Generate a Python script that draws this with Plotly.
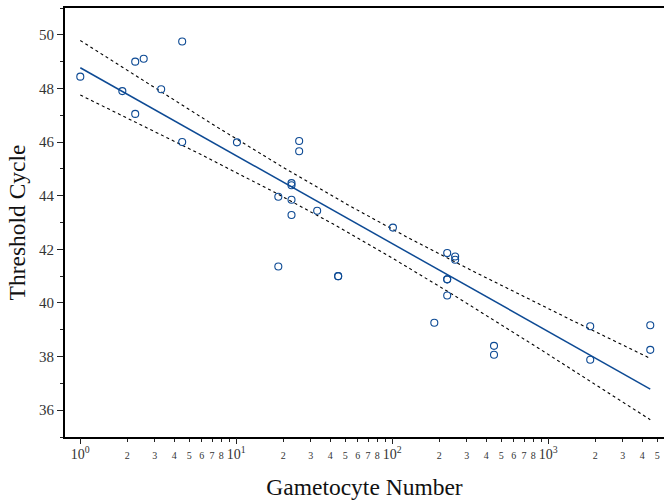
import numpy as np
import plotly.graph_objects as go

# ---- data ----
gametocytes = [1, 1.86, 2.25, 2.55, 2.25, 3.3, 4.5, 4.5, 10.1, 18.6,
               22.6, 22.6, 22.6, 22.6, 25.3, 25.3, 33, 18.6, 45, 45,
               101, 225, 253, 253, 225, 225, 225, 186, 449, 449,
               1858, 1858, 4508, 4508]
threshold_cycle = [48.44, 47.90, 49.00, 49.11, 47.05, 47.97, 49.75, 46.00, 45.99, 43.96,
                   44.47, 44.39, 43.85, 43.28, 46.04, 45.66, 43.44, 41.36, 41.00, 41.00,
                   42.81, 41.86, 41.73, 41.61, 40.88, 40.88, 40.28, 39.26, 38.40, 38.07,
                   39.13, 37.88, 39.17, 38.25]

decade_vals = [1, 10, 100, 1000]
decade_text = ["10<sup>0</sup>", "10<sup>1</sup>", "10<sup>2</sup>", "10<sup>3</sup>"]
minor_digits = [2, 3, 4, 5, 6, 7, 8, 9]
minor_labels = ["2", "3", "4", "5", "6", "7", "8", ""]
t_crit = 2.037  # t(0.975, df=32)

# ---- regression on log10(x) ----
lx = np.log10(np.array(gametocytes, float))
yv = np.array(threshold_cycle, float)
n = len(lx)
slope, intercept = np.polyfit(lx, yv, 1)
resid = yv - (intercept + slope * lx)
s = np.sqrt(np.sum(resid ** 2) / (n - 2))
sxx = np.sum((lx - lx.mean()) ** 2)
gx = np.linspace(lx.min(), lx.max(), 200)
fit = intercept + slope * gx
half = t_crit * s * np.sqrt(1.0 / n + (gx - lx.mean()) ** 2 / sxx)
xfit = 10 ** gx

# ---- tick lists ----
tickvals, ticktext = [], []
for d, lab in zip(decade_vals, decade_text):
    tickvals.append(d)
    ticktext.append(lab)
    for m, ml in zip(minor_digits, minor_labels):
        v = d * m
        if v <= 5000:
            tickvals.append(v)
            ticktext.append("<span style='font-size:10px'>%s</span>" % ml if ml else "")

blue = "#0d4a94"
fig = go.Figure()
fig.add_trace(go.Scatter(x=xfit, y=fit + half, mode="lines",
                         line=dict(color="black", width=1.1, dash="3px,3px"), showlegend=False))
fig.add_trace(go.Scatter(x=xfit, y=fit - half, mode="lines",
                         line=dict(color="black", width=1.1, dash="3px,3px"), showlegend=False))
fig.add_trace(go.Scatter(x=xfit, y=fit, mode="lines",
                         line=dict(color=blue, width=1.5), showlegend=False))
fig.add_trace(go.Scatter(x=gametocytes, y=threshold_cycle, mode="markers",
                         marker=dict(symbol="circle-open", size=7, color=blue,
                                     line=dict(width=1.1, color=blue)),
                         showlegend=False))
fig.add_trace(go.Scatter(x=[], y=[], xaxis="x2", showlegend=False))

xr = [-0.098, 3.742]
fig.update_layout(
    width=664, height=504,
    margin=dict(l=65, r=0, t=8, b=67),
    plot_bgcolor="white", paper_bgcolor="white",
    font=dict(family="Liberation Serif", color="#222"),
    xaxis=dict(type="log", range=xr, tickmode="array", tickvals=tickvals, ticktext=ticktext,
               ticks="outside", ticklen=3, tickcolor="#222", tickwidth=1,
               tickfont=dict(size=14, color="#333", family="Liberation Serif"),
               showline=True, linecolor="black", linewidth=2, mirror=True,
               showgrid=False, zeroline=False, automargin=False,
               title=dict(text="Gametocyte Number", font=dict(size=23.5, color="#111"), standoff=18)),
    xaxis2=dict(type="log", range=xr, overlaying="x", anchor="y", side="bottom",
                tickmode="array", tickvals=decade_vals, ticktext=["", "", "", ""],
                ticks="outside", ticklen=6, tickcolor="#222", tickwidth=1, automargin=False,
                showline=False, showgrid=False, zeroline=False, showticklabels=False),
    yaxis=dict(range=[35, 51], tickmode="linear", tick0=36, dtick=2,
               ticks="outside", ticklen=6, tickcolor="#222", tickwidth=1,
               minor=dict(ticks="outside", ticklen=3, dtick=1, tick0=35, tickcolor="#222"),
               tickfont=dict(size=15, color="#333", family="Liberation Serif"),
               showline=True, linecolor="black", linewidth=2, mirror=False,
               showgrid=False, zeroline=False, automargin=False,
               title=dict(text="Threshold Cycle", font=dict(size=23.5, color="#111"), standoff=7)),
)
fig.write_html("out.html", config={"displayModeBar": False},
               post_script="document.body.style.margin='0';document.body.style.padding='0';")
